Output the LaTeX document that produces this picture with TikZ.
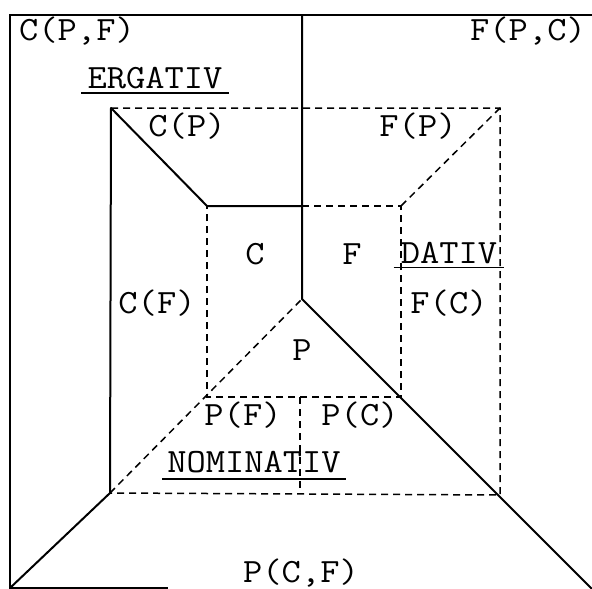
\documentclass[tikz,border=0pt]{standalone}
\newcommand\stretchtxt[1]{\scalebox{1.1}[1]{#1}}
\begin{document}
\begin{tikzpicture}[x=1pt,y=-1pt,
  solidline/.style={line width=2pt,line cap=round,line join=round},
  framel/.style={line width=1.7pt},
  dashline/.style={line width=1.5pt,dash pattern=on 7pt off 5pt},
  lbl/.style={font=\fontsize{34}{40}\selectfont\ttfamily,anchor=base,inner sep=0pt},
  ulbl/.style={lbl,inner ysep=4pt},
  uline/.style={line width=1.8pt}]
\useasboundingbox (0,0) rectangle (592,589);
% points
\coordinate (tl) at (10,15);
\coordinate (tr) at (592,15);
\coordinate (bl) at (10,588);
\coordinate (bfade) at (168,588);
\coordinate (br) at (592,589);
\coordinate (ctop) at (302,15);
\coordinate (cen) at (302,299);
\coordinate (itl) at (111,108);
\coordinate (itr) at (500,108);
\coordinate (ibl) at (110,493);
\coordinate (ibr) at (500,495);
\coordinate (stl) at (207,206);
\coordinate (stm) at (302,206);
\coordinate (str) at (401,206);
\coordinate (sbl) at (207,397);
\coordinate (sbr) at (401,397);
\coordinate (pmt) at (300,397);
\coordinate (pmb) at (300,494);
% frame
\draw[framel] (tr) -- (tl) -- (bl) -- (bfade);
% solid lines
\draw[solidline] (ctop) -- (cen) -- (br);
\draw[solidline] (ibl) -- (itl) -- (stl) -- (stm);
\draw[solidline] (bl) -- (ibl);
% dashed lines
\draw[dashline] (itl) -- (itr) -- (ibr) -- (ibl);
\draw[dashline] (itr) -- (str);
\draw[dashline] (stm) -- (str) -- (sbr) -- (sbl) -- (stl);
\draw[dashline] (ibl) -- (cen);
\draw[dashline] (pmt) -- (pmb);
% labels
\node[lbl] (cpf) at (77,40) {\stretchtxt{C(P,F)}};
\node[lbl] (fpc) at (528,40) {\stretchtxt{F(P,C)}};
\node[ulbl,inner xsep=6pt] (erg) at (155,88) {\stretchtxt{ERGATIV}};
\draw[uline] (erg.south west) -- (erg.south east);
\node[lbl] (cp) at (187,136) {\stretchtxt{C(P)}};
\node[lbl] (fp) at (418,136) {\stretchtxt{F(P)}};
\node[lbl] (c) at (255,264) {\stretchtxt{C}};
\node[lbl] (f) at (352,264) {\stretchtxt{F}};
\node[ulbl,inner xsep=7pt] (dat) at (449,263) {\stretchtxt{DATIV}};
\draw[uline] (dat.south west) -- (dat.south east);
\node[lbl] (cf) at (157,313) {\stretchtxt{C(F)}};
\node[lbl] (fc) at (449,313) {\stretchtxt{F(C)}};
\node[lbl] (p) at (302,360) {\stretchtxt{P}};
\node[lbl] (pfl) at (243,425) {\stretchtxt{P(F)}};
\node[lbl] (pcl) at (360,425) {\stretchtxt{P(C)}};
\node[ulbl,inner xsep=5pt,inner ysep=6pt] (nom) at (254,472) {\stretchtxt{NOMINATIV}};
\draw[uline] (nom.south west) -- (nom.south east);
\node[lbl] (pcf) at (301,582) {\stretchtxt{P(C,F)}};
\end{tikzpicture}
\end{document}
